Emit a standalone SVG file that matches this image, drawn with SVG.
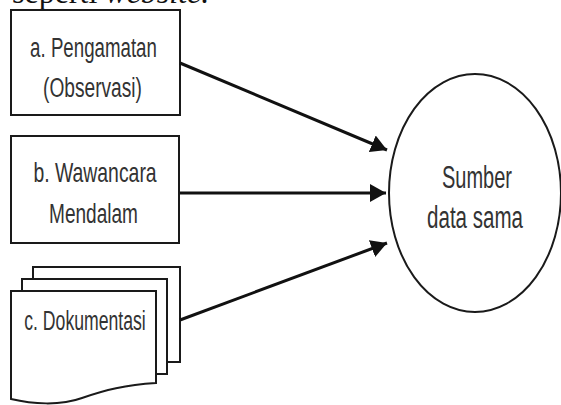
<svg xmlns="http://www.w3.org/2000/svg" width="561" height="405" viewBox="0 0 561 405">
<style>
.box{fill:#fff;stroke:#1a1a1a;stroke-width:2}
.lbl{font-family:"Liberation Sans",Arial,sans-serif;font-size:28px;fill:#333;text-anchor:middle}
.big{font-size:31px}
.conn{stroke:#111;stroke-width:3;fill:none}
.top{font-family:"Liberation Serif","Times New Roman",serif;font-size:32px;fill:#111}
</style>
<defs>
<marker id="ah" markerUnits="userSpaceOnUse" markerWidth="16" markerHeight="18" refX="16" refY="9" orient="auto">
<path d="M0,0 L16,9 L0,18 Z" fill="#111"/>
</marker>
</defs>
<rect width="561" height="405" fill="#fff"/>
<text class="top" x="12" y="3">seperti <tspan font-style="italic">website.</tspan></text>
<g id="node-a">
<rect class="box" x="11" y="10" width="169" height="105"/>
<text class="lbl" transform="translate(93.5,57) scale(0.668,1)">a. Pengamatan</text>
<text class="lbl" transform="translate(92.5,97) scale(0.684,1)">(Observasi)</text>
</g>
<g id="node-b">
<rect class="box" x="11" y="136" width="168" height="107"/>
<text class="lbl" transform="translate(95,182) scale(0.693,1)">b. Wawancara</text>
<text class="lbl" transform="translate(93.5,223) scale(0.681,1)">Mendalam</text>
</g>
<g id="node-c">
<rect class="box" x="33" y="267" width="147" height="95"/>
<rect class="box" x="22" y="279" width="145" height="95"/>
<path class="box" d="M11,291 H156 V383 C125,385 105,390 82,398 C60,406 32,404 11,399 Z"/>
<text class="lbl" transform="translate(85,330) scale(0.63,1)">c. Dokumentasi</text>
</g>
<g id="node-sumber">
<ellipse class="box" cx="475" cy="193" rx="86" ry="119"/>
<text class="lbl big" transform="translate(477,188) scale(0.645,1)">Sumber</text>
<text class="lbl big" transform="translate(475,228) scale(0.663,1)">data sama</text>
</g>
<g id="connectors">
<line class="conn" x1="180" y1="63" x2="387" y2="150" marker-end="url(#ah)"/>
<line class="conn" x1="180" y1="193" x2="386" y2="193" marker-end="url(#ah)"/>
<line class="conn" x1="180" y1="320" x2="387" y2="243" marker-end="url(#ah)"/>
</g>
</svg>
